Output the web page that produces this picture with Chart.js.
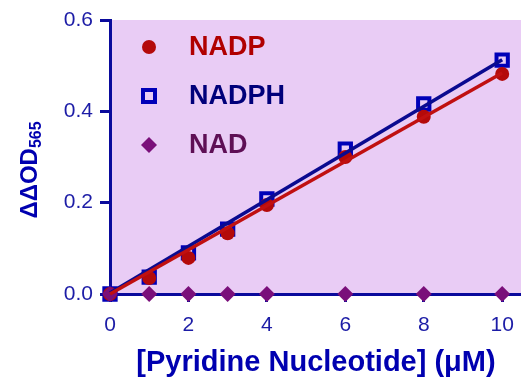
<!DOCTYPE html>
<html>
<head>
<meta charset="utf-8">
<script src="https://cdn.jsdelivr.net/npm/chart.js@4/dist/chart.umd.min.js"></script>
<style>
  html, body { margin: 0; padding: 0; background: #fff; }
  #wrap { width: 521px; height: 385px; }
</style>
</head>
<body>
<div id="wrap"><canvas id="chartNucleotide"></canvas></div>
<script>
const CONC = [0, 1, 2, 3, 4, 6, 8, 10];
const NADP = [0, 0.035, 0.079, 0.133, 0.195, 0.300, 0.388, 0.482];
const NADPH = [0, 0.037, 0.090, 0.142, 0.208, 0.317, 0.416, 0.512];
const NAD = [0, 0, 0, 0, 0, 0, 0, 0];
const FIT_X = [0, 10];
const NADP_FIT = [0, 0.484];
const NADPH_FIT = [0.002, 0.513];
const X_TICKS = [0, 2, 4, 6, 8, 10];
const Y_TICKS = [0, 0.2, 0.4, 0.6];

const AXIS_BLUE = '#0a0a9c';
const TICK_TEXT = '#1c1ca6';
const RED = '#b40a0a';
const BLUE = '#0000b8';
const PURPLE = '#7a0f7a';
const FONT = '"Liberation Sans", Arial, sans-serif';

function pts(xs, ys) {
    return xs.map((x, i) => ({ x: x, y: ys[i] }));
}

const bgPlugin = {
    id: 'plotBg',
    beforeDraw(chart) {
        const a = chart.chartArea;
        const ctx = chart.ctx;
        ctx.save();
        ctx.fillStyle = '#e9ccf5';
        ctx.fillRect(a.left, a.top, a.right - a.left, a.bottom - a.top);
        ctx.restore();
    }
};

const labelPlugin = {
    id: 'labels',
    afterDraw(chart) {
        const ctx = chart.ctx;
        ctx.save();

        // x tick labels
        const xs = chart.scales.x;
        ctx.fillStyle = TICK_TEXT;
        ctx.font = '21px ' + FONT;
        ctx.textAlign = 'center';
        ctx.textBaseline = 'middle';
        X_TICKS.forEach(v => {
            ctx.fillText(String(v), xs.getPixelForValue(v), 325);
        });

        // legend
        const rows = [
            { text: 'NADP', color: '#b00000', y: 47, mark: 'circle', mc: RED },
            { text: 'NADPH', color: '#00007a', y: 96, mark: 'square', mc: BLUE },
            { text: 'NAD', color: '#5e0f55', y: 145, mark: 'diamond', mc: PURPLE }
        ];
        rows.forEach(r => {
            const mx = 149;
            ctx.fillStyle = r.mc;
            ctx.strokeStyle = r.mc;
            if (r.mark === 'circle') {
                ctx.beginPath();
                ctx.arc(mx, r.y, 7, 0, Math.PI * 2);
                ctx.fill();
            } else if (r.mark === 'square') {
                ctx.lineWidth = 4;
                ctx.strokeRect(mx - 6, r.y - 6, 12, 12);
            } else {
                ctx.beginPath();
                ctx.moveTo(mx, r.y - 8);
                ctx.lineTo(mx + 8, r.y);
                ctx.lineTo(mx, r.y + 8);
                ctx.lineTo(mx - 8, r.y);
                ctx.closePath();
                ctx.fill();
            }
            ctx.fillStyle = r.color;
            ctx.font = 'bold 27px ' + FONT;
            ctx.textBaseline = 'middle';
            ctx.textAlign = 'left';
            ctx.fillText(r.text, 189, r.y + 1);
        });

        // x title
        ctx.fillStyle = '#0000b0';
        ctx.font = 'bold 29px ' + FONT;
        ctx.textAlign = 'center';
        ctx.textBaseline = 'middle';
        ctx.fillText('[Pyridine Nucleotide] (\u03bcM)', 316, 363);

        // y title with subscript
        ctx.translate(30, 170);
        ctx.rotate(-Math.PI / 2);
        ctx.font = 'bold 24px ' + FONT;
        const main = '\u0394\u0394OD';
        const w1 = ctx.measureText(main).width;
        ctx.font = 'bold 16px ' + FONT;
        const w2 = ctx.measureText('565').width;
        const start = -(w1 + w2) / 2;
        ctx.textAlign = 'left';
        ctx.font = 'bold 24px ' + FONT;
        ctx.fillText(main, start, 0);
        ctx.font = 'bold 16px ' + FONT;
        ctx.fillText('565', start + w1, 7);
        ctx.restore();
    }
};

const data = {
    datasets: [
        {
            label: 'NADP fit',
            data: pts(FIT_X, NADP_FIT),
            borderColor: '#c01010',
            borderWidth: 3.5,
            pointRadius: 0,
            showLine: true
        },
        {
            label: 'NADPH fit',
            data: pts(FIT_X, NADPH_FIT),
            borderColor: '#0a0a90',
            borderWidth: 3.5,
            pointRadius: 0,
            showLine: true
        },
        {
            label: 'NAD',
            data: pts(CONC, NAD),
            pointStyle: 'rectRot',
            pointRadius: 8,
            backgroundColor: PURPLE,
            borderColor: PURPLE,
            borderWidth: 0,
            showLine: false
        },
        {
            label: 'NADP',
            data: pts(CONC, NADP),
            pointStyle: 'circle',
            pointRadius: 7,
            backgroundColor: RED,
            borderColor: RED,
            borderWidth: 0,
            showLine: false
        },
        {
            label: 'NADPH',
            data: pts(CONC, NADPH),
            pointStyle: 'rect',
            pointRadius: 8,
            backgroundColor: 'rgba(0,0,0,0)',
            borderColor: BLUE,
            borderWidth: 4,
            showLine: false
        }
    ]
};

const config = {
    type: 'scatter',
    data: data,
    options: {
        responsive: false,
        animation: false,
        clip: false,
        layout: { autoPadding: false, padding: { top: 20, right: 0, left: 0, bottom: 0 } },
        plugins: {
            legend: { display: false },
            tooltip: { enabled: false }
        },
        scales: {
            x: {
                type: 'linear',
                min: 0,
                max: 10.48,
                afterBuildTicks(scale) {
                    scale.ticks = X_TICKS.map(v => ({ value: v }));
                },
                afterFit(scale) {
                    scale.height = 91;
                },
                grid: {
                    drawOnChartArea: false,
                    drawTicks: true,
                    tickLength: 8,
                    tickWidth: 3,
                    tickColor: AXIS_BLUE
                },
                border: { color: AXIS_BLUE, width: 3 },
                ticks: { display: false }
            },
            y: {
                type: 'linear',
                min: 0,
                max: 0.6,
                afterBuildTicks(scale) {
                    scale.ticks = Y_TICKS.map(v => ({ value: v }));
                },
                afterFit(scale) {
                    scale.width = 110;
                },
                grid: {
                    drawOnChartArea: false,
                    drawTicks: true,
                    tickLength: 10,
                    tickWidth: 3,
                    tickColor: AXIS_BLUE
                },
                border: { color: AXIS_BLUE, width: 3 },
                ticks: {
                    color: TICK_TEXT,
                    font: { family: FONT, size: 21 },
                    padding: 7,
                    callback: v => Number(v).toFixed(1)
                }
            }
        }
    },
    plugins: [bgPlugin, labelPlugin]
};

const canvas = document.getElementById('chartNucleotide');
canvas.width = 521;
canvas.height = 385;
new Chart(canvas, config);
</script>
</body>
</html>
